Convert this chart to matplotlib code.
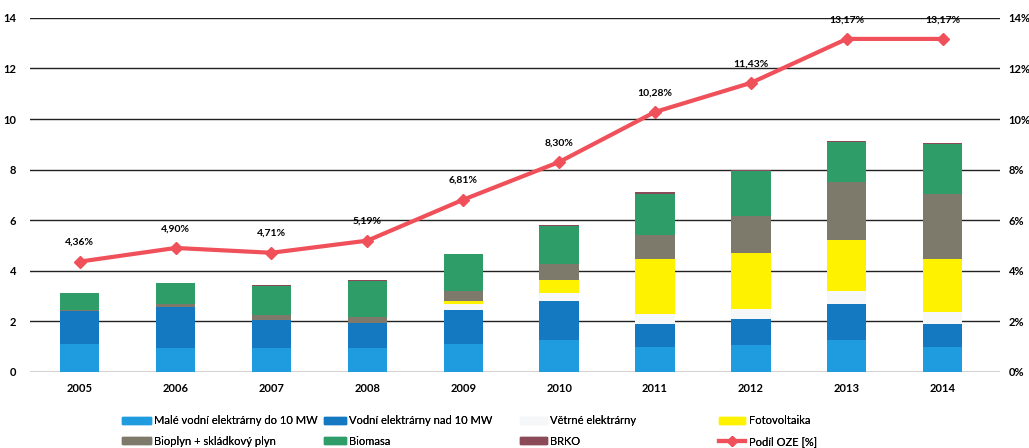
import numpy as np
import matplotlib.pyplot as plt
from matplotlib.lines import Line2D
from matplotlib.patches import Patch

plt.rcParams['font.family'] = ['Lato', 'DejaVu Sans']

roky = ['2005', '2006', '2007', '2008', '2009', '2010', '2011', '2012', '2013', '2014']

male_vodni = [1.1, 0.95, 0.95, 0.95, 1.1, 1.25, 1.0, 1.05, 1.25, 1.0]
vodni_nad = [1.3, 1.6, 1.1, 1.0, 1.35, 1.55, 0.9, 1.05, 1.45, 0.9]
vetrne = [0.0, 0.0, 0.0, 0.0, 0.25, 0.3, 0.4, 0.4, 0.5, 0.45]
fotovoltaika = [0.0, 0.0, 0.0, 0.0, 0.1, 0.55, 2.15, 2.2, 2.0, 2.1]
bioplyn = [0.05, 0.15, 0.2, 0.2, 0.4, 0.6, 0.95, 1.45, 2.3, 2.6]
biomasa = [0.65, 0.8, 1.15, 1.45, 1.45, 1.5, 1.65, 1.8, 1.6, 1.95]
brko = [0.02, 0.02, 0.02, 0.02, 0.03, 0.04, 0.05, 0.05, 0.05, 0.05]

podil_oze = [4.36, 4.90, 4.71, 5.19, 6.81, 8.30, 10.28, 11.43, 13.17, 13.17]

serie = [
    ('Malé vodní elektrárny do 10 MW', male_vodni, '#1f9be0'),
    ('Vodní elektrárny nad 10 MW', vodni_nad, '#1479c1'),
    ('Větrné elektrárny', vetrne, '#f5f7f9'),
    ('Fotovoltaika', fotovoltaika, '#fff200'),
    ('Bioplyn + skládkový plyn', bioplyn, '#7d7a6c'),
    ('Biomasa', biomasa, '#2e9d68'),
    ('BRKO', brko, '#8a4a58'),
]

fig = plt.figure(figsize=(10.29, 4.48), dpi=100)
ax = fig.add_axes([0.029, 0.17, 0.943, 0.79])
x = np.arange(len(roky))

dno = np.zeros(len(roky))
for nazev, hodnoty, barva in serie:
    ax.bar(x, hodnoty, 0.41, bottom=dno, color=barva, zorder=3)
    dno += np.array(hodnoty)

ax.set_ylim(0, 14)
ax.set_yticks(range(0, 15, 2))
ax.set_xlim(-0.52, 9.6)
ax.set_xticks(x)
ax.set_xticklabels(roky, fontsize=8, fontweight='bold')
ax.tick_params(axis='y', labelsize=8, length=0, pad=10)
ax.tick_params(axis='x', length=0, pad=8)
ax.grid(axis='y', color='#222222', linewidth=1.0, zorder=0)
for s in ax.spines.values():
    s.set_visible(False)
for lab in ax.get_yticklabels():
    lab.set_fontweight('bold')

ax2 = ax.twinx()
ax2.set_ylim(0, 14)
ax2.set_yticks(range(0, 15, 2))
ax2.set_yticklabels([f'{v}%' for v in range(0, 15, 2)], fontsize=8, fontweight='bold')
ax2.tick_params(axis='y', length=0, pad=6)
for s in ax2.spines.values():
    s.set_visible(False)
ax2.plot(x, podil_oze, color='#f0505a', linewidth=3, marker='D', markersize=6, zorder=5)
for xi, v in zip(x, podil_oze):
    ax2.annotate(f'{v:.2f}%'.replace('.', ','), (xi, v), xytext=(0, 12),
                 textcoords='offset points', ha='center', fontsize=7.5, fontweight='bold')

handles = [Patch(color=b) for _, _, b in serie]
handles.append(Line2D([], [], color='#f0505a', linewidth=3, marker='D', markersize=5))
labels = [n for n, _, _ in serie] + ['Podíl OZE [%]']

# legend in four equal columns, like the original
sloupce = [(0, 4), (1, 5), (2, 6), (3, 7)]
x_sloupcu = [0.112, 0.308, 0.499, 0.692]
delky = [2.6, 2.0, 2.4, 2.4]
for (a, b), xs, dl in zip(sloupce, x_sloupcu, delky):
    leg = fig.legend([handles[a], handles[b]], [labels[a], labels[b]],
                     loc='lower left', bbox_to_anchor=(xs, -0.012), frameon=False,
                     fontsize=8, handlelength=dl, handleheight=0.6,
                     handletextpad=0.3, labelspacing=0.85, borderaxespad=0.2)
    fig.add_artist(leg)

fig.savefig('out.png', dpi=100)
